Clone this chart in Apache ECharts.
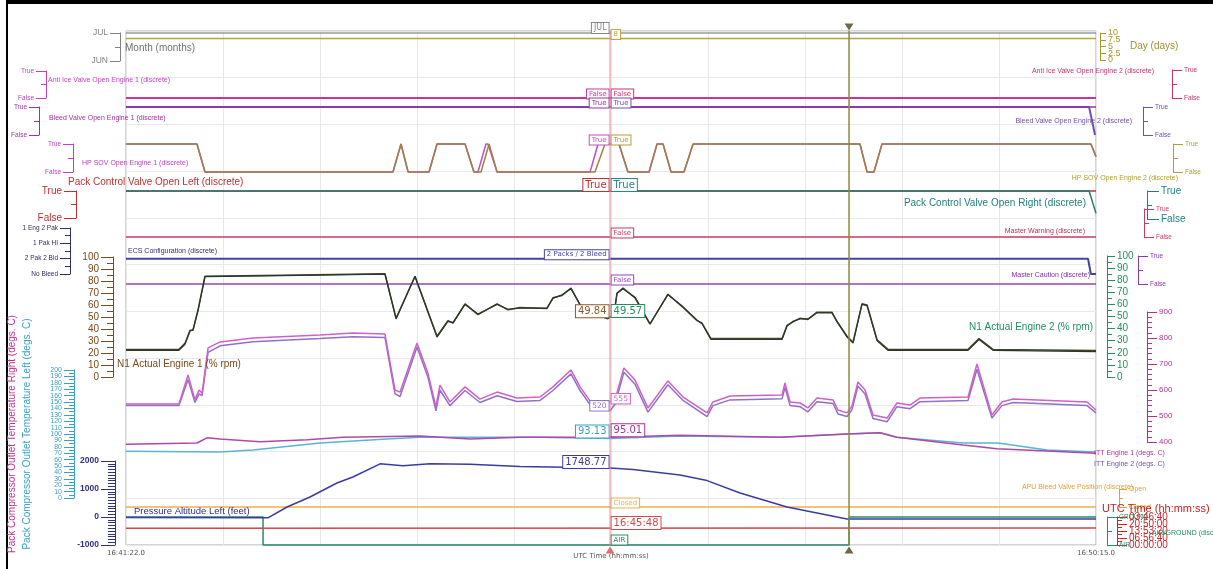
<!DOCTYPE html>
<html>
<head>
<meta charset="utf-8">
<script src="https://cdn.jsdelivr.net/npm/echarts@6/dist/echarts.min.js"></script>
<style>
  html, body { margin: 0; padding: 0; background: #fff; }
  #chart { width: 1213px; height: 569px; }
</style>
</head>
<body>
<div id="chart"></div>
<script>
// time axis: seconds after 16:41:22.0
var SPAN = 533;
var CURSOR = 266;      // 16:45:48
var MARKER = 397.3;
var START_SEC = 16 * 3600 + 41 * 60 + 22;

// discrete channels
var monthT = [0, 533], monthV = [7, 7];
var dayT = [0, 533], dayV = [8, 8];
var antiIce1T = [0, 533], antiIce1V = [0, 0];
var antiIce2T = [0, 533], antiIce2V = [0, 0];
var bleed1T = [0, 533], bleed1V = [1, 1];
var bleed2T = [0, 529.2, 532.5], bleed2V = [1, 1, 0];
var hpsov1T = [0, 39.0, 43.4, 146.7, 151.1, 155.0, 166.5, 170.9, 186.3, 191.2, 193.4, 197.8, 198.9, 203.9, 255.0, 259.4, 270.9, 275.8, 287.4, 291.8, 295.1, 299.5, 306.6, 311.6, 403.3, 407.2, 411.0, 415.4, 530.2, 533];
var hpsov1V = [1, 1, 0, 0, 1, 0, 0, 1, 1, 0, 0, 1, 1, 0, 0, 1, 1, 0, 0, 1, 1, 0, 0, 1, 1, 0, 0, 1, 1, 0.55];
var hpsov2T = [0, 39.0, 43.4, 146.7, 151.1, 155.0, 166.5, 170.9, 186.3, 191.2, 195.1, 199.5, 203.9, 257.7, 263.2, 270.9, 275.8, 287.4, 291.8, 295.1, 299.5, 306.6, 311.6, 403.3, 407.2, 411.0, 415.4, 530.2, 533];
var hpsov2V = [1, 1, 0, 0, 1, 0, 0, 1, 1, 0, 0, 1, 0, 0, 1, 1, 0, 0, 1, 1, 0, 0, 1, 1, 0, 0, 1, 1, 0.55];
var packLT = [0, 533], packLV = [1, 1];
var packRT = [0, 529.2, 533], packRV = [1, 1, 0.2];
var warnT = [0, 533], warnV = [0, 0];
var ecsT = [0, 528.6, 530.2, 533], ecsV = [1, 1, 0, 0];
var cautionT = [0, 533], cautionV = [0, 0];
var apuT = [0, 533], apuV = [0, 0];
var agT = [0, 75.3, 75.3, 397.3, 397.3, 533], agV = [1, 1, 0, 0, 1, 1];
var utcT = [0, 533], utcV = [60082, 60615];

// N1 (% rpm)
var n1T = [0, 29.1, 32.4, 35.2, 36.8, 39.6, 43.4, 95.6, 142.3, 148.4, 158.8, 170.9, 176.9, 179.7, 186.3, 193.4, 203.9, 209.9, 216.5, 231.3, 234.6, 239.6, 244.5, 250.6, 258.8, 264.8, 266, 268.1, 269.8, 273.1, 279.7, 287.9, 297.8, 306.1, 313.8, 316.5, 321.4, 360.5, 363.2, 366.5, 370.4, 374.7, 379.7, 387.9, 390.7, 396.2, 399.5, 404.4, 407.2, 412.7, 418.7, 462.7, 468.7, 476.4, 533];
var n1E1 = [23, 23, 28, 39, 39, 56, 84, 85, 86, 49, 84, 34, 47, 45, 61, 52, 61, 56, 58, 57, 66, 68, 74, 57, 52, 49, 49.84, 52, 70, 74, 66, 44, 69, 58, 47, 45, 32, 32, 43, 46, 49, 48, 54, 54, 46, 34, 29, 61, 60, 31, 23, 23, 32, 23, 22];
var n1E2 = [22, 22, 27, 38, 39, 55, 83, 84, 85, 48, 83, 33, 46, 45, 60, 52, 60, 56, 57, 57, 65, 68, 73, 57, 51, 48, 49.57, 51, 69, 73, 66, 44, 68, 58, 47, 44, 31, 31, 42, 46, 48, 48, 53, 53, 46, 33, 28, 60, 59, 30, 22, 22, 31, 22, 21];

// ITT (degs. C)
var ittT = [0, 29.1, 34.1, 37.9, 40.1, 41.8, 45.1, 51.7, 69.8, 106.6, 124.7, 142.3, 147.8, 150.6, 159.9, 165.9, 170.3, 172.5, 178.0, 186.3, 194.5, 203.9, 214.8, 227.5, 234.6, 244.5, 249.5, 256.6, 264.8, 266, 268.7, 273.6, 279.7, 286.8, 297.8, 306.1, 319.3, 322.5, 331.9, 360.5, 362.1, 364.9, 370.4, 374.7, 379.7, 388.5, 391.2, 396.2, 398.9, 402.2, 406.1, 410.5, 418.2, 423.6, 430.8, 436.3, 462.7, 467.6, 475.8, 481.3, 487.4, 528.1, 533];
var ittE1 = [546, 546, 658, 562, 600, 588, 762, 785, 800, 812, 819, 815, 600, 592, 781, 665, 535, 619, 554, 612, 565, 592, 569, 573, 612, 677, 612, 542, 550, 555, 562, 685, 638, 531, 635, 573, 512, 554, 577, 581, 627, 554, 550, 531, 569, 562, 523, 512, 538, 631, 600, 504, 492, 550, 542, 569, 573, 700, 504, 554, 565, 554, 523];
var ittE2 = [540, 540, 640, 552, 585, 578, 745, 770, 786, 798, 805, 802, 585, 575, 765, 650, 520, 600, 540, 598, 552, 578, 556, 560, 598, 662, 598, 528, 522, 520, 545, 668, 622, 515, 620, 560, 498, 540, 562, 566, 610, 540, 536, 516, 555, 548, 508, 498, 524, 615, 585, 490, 478, 536, 528, 555, 560, 680, 492, 540, 552, 540, 512];

// pack compressor outlet temperature (degs. C)
var tempRT = [0, 39.0, 44.5, 51.7, 73.6, 99.5, 119.2, 161.5, 189.0, 216.5, 266, 304.4, 359.4, 396.2, 414.3, 423.6, 459.9, 478.6, 533];
var tempRV = [84, 86, 94, 92, 88, 91, 95, 97, 92, 95, 95.01, 98, 95, 100, 102, 95, 83, 77, 70];
var tempLT = [0, 51.7, 69.8, 106.6, 143.4, 161.5, 227.5, 266, 304.4, 359.4, 396.2, 414.3, 423.6, 459.9, 479.1, 506.1, 533];
var tempLV = [73, 72, 75, 86, 92, 95, 95, 93.13, 97, 95, 100, 102, 95, 86, 86, 75, 72];

// pressure altitude (feet)
var altT = [0, 75.3, 78.0, 88.5, 101.1, 115.9, 124.7, 139.6, 152.2, 167.0, 189.0, 216.5, 266, 278.6, 304.4, 319.3, 337.4, 363.2, 396.2, 533];
var altV = [-20, -30, -30, 357, 714, 1214, 1429, 1900, 1830, 1900, 1880, 1800, 1748.77, 1700, 1500, 1300, 857, 357, -70, -70];

var boolLabels = ['False', 'True'];
var ecsLabels = ['No Bleed', '2 Pak 2 Bld', '1 Pak HI', '1 Eng 2 Pak'];
var monthLabels = { 6: 'JUN', 7: 'JUL' };
var apuLabels = ['Closed', 'Open'];
var agLabels = ['AIR', 'GROUND'];

var SANS = '"Liberation Sans", Arial, sans-serif';
var DJV = '"DejaVu Sans", Verdana, sans-serif';

function clock(sec, frac) {
  sec = ((Math.round(sec) % 86400) + 86400) % 86400;
  function p(n) { return (n < 10 ? '0' : '') + n; }
  return p(Math.floor(sec / 3600)) + ':' + p(Math.floor(sec % 3600 / 60)) + ':' + p(sec % 60) + (frac ? '.0' : '');
}

var grids = [], xAxes = [], yAxes = [], series = [];

// background plot with the time grid
grids.push({ left: 126, right: 117, top: 31, bottom: 24, show: true, borderColor: '#a8a8a8', borderWidth: 1, outerBoundsMode: 'none' });
xAxes.push({
  type: 'value', gridIndex: 0, min: 0, max: SPAN, interval: SPAN / 10,
  axisLine: { show: false }, axisTick: { show: false },
  splitLine: { show: true, lineStyle: { color: '#e8e8e8' } },
  axisLabel: { color: '#555', fontSize: 7, fontFamily: DJV, margin: 5, showMinLabel: true, showMaxLabel: true, hideOverlap: false,
    formatter: function (v) { return (v < 1 || v > SPAN - 1) ? clock(START_SEC + v, true) : ''; } },
  name: 'UTC Time (hh:mm:ss)', nameLocation: 'middle', nameGap: 8, nameMoveOverlap: false,
  nameTextStyle: { color: '#555', fontSize: 7, fontFamily: DJV }
});
yAxes.push({ type: 'value', gridIndex: 0, min: 0, max: 11, interval: 1, axisLine: { show: false }, axisTick: { show: false }, axisLabel: { show: false }, splitLine: { show: true, lineStyle: { color: '#e8e8e8' } } });

function band(top, bottom) {
  grids.push({ left: 126, right: 117, top: top, height: bottom - top, outerBoundsMode: 'none' });
  xAxes.push({ type: 'value', gridIndex: grids.length - 1, min: 0, max: SPAN, show: false });
  return grids.length - 1;
}

function makeAxis(g, o, showLine, fmt) {
  var tick = o.tick || 8;
  var a = {
    type: 'value', gridIndex: g, position: o.side, offset: o.offset,
    min: o.min, max: o.max, interval: o.interval,
    splitLine: { show: false },
    axisLine: { show: showLine, onZero: false, lineStyle: { color: o.color, width: 1 } },
    axisTick: { show: showLine, length: tick, lineStyle: { color: o.color } },
    minorTick: { show: showLine && !!o.minor, splitNumber: o.minor || 2, length: o.minorLen || 4, lineStyle: { color: o.color } },
    axisLabel: { show: o.labels !== false, color: o.color, fontSize: o.fs || 7, fontFamily: o.font || SANS, hideOverlap: false,
      showMinLabel: true, showMaxLabel: true,
      fontWeight: o.bold ? 'bold' : 'normal', margin: tick + (o.margin == null ? 2 : o.margin),
      formatter: fmt }
  };
  yAxes.push(a);
  return a;
}

// value axis; dense scales are drawn as two overlaid axes holding alternate labels
function yAx(g, o) {
  var fmt = o.fmt || function (v) { return String(v); };
  var showLine = o.line !== false;
  if (!o.split) {
    var a = makeAxis(g, o, showLine, fmt);
    if (o.name) {
      a.name = o.name; a.nameLocation = 'middle'; a.nameRotate = 90; a.nameGap = o.nameGap;
      a.nameTextStyle = { color: o.nameColor, fontSize: 10, fontFamily: SANS };
    }
    return yAxes.length - 1;
  }
  function idx(v) { return Math.round((v - o.min) / o.interval); }
  var main = makeAxis(g, o, showLine, function (v) { return idx(v) % 2 === 0 ? fmt(v) : ''; });
  var mainIndex = yAxes.length - 1;
  if (o.name) {
    main.name = o.name; main.nameLocation = 'middle'; main.nameRotate = 90; main.nameGap = o.nameGap;
    main.nameTextStyle = { color: o.nameColor, fontSize: 10, fontFamily: SANS };
  }
  makeAxis(g, o, false, function (v) { return idx(v) % 2 === 1 ? fmt(v) : ''; });
  return mainIndex;
}

function boolAxis(g, side, offset, color, fs, tick) {
  return yAx(g, { side: side, offset: offset, min: 0, max: 1, interval: 1, color: color, fs: fs, tick: tick || 10, minor: 2, minorLen: 5,
    fmt: function (v) { return boolLabels[v] || ''; } });
}

function addLine(g, yi, t, v, color, width, z, box) {
  var s = {
    type: 'line', xAxisIndex: g, yAxisIndex: yi,
    data: t.map(function (x, i) { return [x, v[i]]; }),
    showSymbol: false, symbol: 'none', clip: false, animation: false, silent: true, z: z || 3,
    lineStyle: { color: color, width: width || 1.5 }
  };
  if (box) {
    var fs = box.fs || 7;
    s.markPoint = {
      symbol: 'circle', symbolSize: 1, itemStyle: { color: 'rgba(0,0,0,0)' }, silent: true, animation: false,
      data: [{ coord: [CURSOR, box.v] }],
      label: { show: true, position: box.side, distance: 1, offset: [0, box.dy], formatter: box.text,
        color: box.color || color, fontSize: fs, fontFamily: DJV, lineHeight: fs + 1,
        backgroundColor: '#fff', borderColor: box.color || color, borderWidth: 1, padding: [1, 2, 0, 2] }
    };
  }
  series.push(s);
}

var g, y;

// Month / Day
g = band(33, 61);
y = yAx(g, { side: 'left', offset: 6, min: 6, max: 7, interval: 1, color: '#808080', fs: 8.5, tick: 10, minor: 2, minorLen: 5,
  fmt: function (v) { return monthLabels[v] || ''; } });
addLine(g, y, monthT, monthV, '#9a9a9a', 1.5, 2, { v: 7, text: 'JUL', side: 'left', fs: 8, dy: -5, color: '#888' });
g = band(33, 60);
y = yAx(g, { side: 'right', offset: 4, min: 0, max: 10, interval: 2.5, color: '#a8962e', fs: 9, tick: 6, minor: 0, split: true });
addLine(g, y, dayT, dayV, '#b4a442', 1.5, 2, { v: 8, text: '8', side: 'right', fs: 7, dy: -4 });

// Anti ice
g = band(70, 98);
y = boolAxis(g, 'right', 76, '#c8306e', 6.5);
addLine(g, y, antiIce2T, antiIce2V, '#d0306a', 2, 2, { v: 0, text: 'False', side: 'right', dy: -4 });
g = band(71, 98);
y = boolAxis(g, 'left', 80, '#c040c0', 6.5);
addLine(g, y, antiIce1T, antiIce1V, '#c23aa8', 1.5, 2, { v: 0, text: 'False', side: 'left', dy: -4 });

// Bleed valve
g = band(107, 135);
y = boolAxis(g, 'right', 47, '#7050a8', 6.5);
addLine(g, y, bleed2T, bleed2V, '#7050b0', 2, 2, { v: 1, text: 'True', side: 'right', dy: -4 });
g = band(107, 135);
y = boolAxis(g, 'left', 87, '#a030a0', 6.5);
addLine(g, y, bleed1T, bleed1V, '#9a30a8', 1.5, 2, { v: 1, text: 'True', side: 'left', dy: -4 });

// HP SOV
g = band(144, 172);
y = boolAxis(g, 'left', 53, '#c040c0', 6.5);
addLine(g, y, hpsov1T, hpsov1V, '#c050c0', 1.5, 2, { v: 1, text: 'True', side: 'left', dy: -4 });
g = band(144, 172);
y = boolAxis(g, 'right', 77, '#b0a030', 6.5);
addLine(g, y, hpsov2T, hpsov2V, '#a08048', 1.5, 2, { v: 1, text: 'True', side: 'right', dy: -4, color: '#b0a030' });

// Pack control valves
g = band(191, 218);
y = boolAxis(g, 'left', 50, '#c03030', 10, 12);
addLine(g, y, packLT, packLV, '#c03030', 1.5, 2, { v: 1, text: 'True', side: 'left', fs: 10, dy: -6 });
g = band(191, 219);
y = boolAxis(g, 'right', 51, '#208080', 10, 12);
addLine(g, y, packRT, packRV, '#257a74', 1.5, 2, { v: 1, text: 'True', side: 'right', fs: 10, dy: -6, color: '#208888' });

// Master warning
g = band(209, 237);
y = boolAxis(g, 'right', 48, '#c83a5e', 6.5);
addLine(g, y, warnT, warnV, '#c83a62', 1.5, 2, { v: 0, text: 'False', side: 'right', dy: -4 });

// ECS configuration
g = band(228, 274);
y = yAx(g, { side: 'left', offset: 56, min: 0, max: 3, interval: 1, color: '#303060', fs: 6.5, tick: 10, minor: 2, minorLen: 5,
  fmt: function (v) { return ecsLabels[v] || ''; } });
addLine(g, y, ecsT, ecsV, '#44449a', 2, 2, { v: 1, text: '2 Packs / 2 Bleed', side: 'left', dy: -4 });

// Master caution
g = band(256, 284);
y = boolAxis(g, 'right', 42, '#8a3aa8', 6.5);
addLine(g, y, cautionT, cautionV, '#9444b4', 1.5, 2, { v: 0, text: 'False', side: 'right', dy: -4 });

// N1
g = band(257, 377);
y = yAx(g, { side: 'left', offset: 13, min: 0, max: 100, interval: 10, color: '#7a4a1a', fs: 10, tick: 12, minor: 2, minorLen: 6 });
addLine(g, y, n1T, n1E1, '#4a4226', 1.5, 3, { v: 49.84, text: '49.84', side: 'left', fs: 10, dy: -6, color: '#8a5a2a' });
g = band(256, 377);
y = yAx(g, { side: 'right', offset: 11, min: 0, max: 100, interval: 10, color: '#22905a', fs: 10, tick: 8, minor: 2, minorLen: 5 });
addLine(g, y, n1T, n1E2, '#263a2a', 1.2, 3, { v: 49.57, text: '49.57', side: 'right', fs: 10, dy: -6, color: '#22905a' });

// ITT
g = band(312, 442);
y = yAx(g, { side: 'right', offset: 51, min: 400, max: 900, interval: 100, color: '#b03090', fs: 8, tick: 10, minor: 5, minorLen: 5 });
addLine(g, y, ittT, ittE2, '#9070c8', 1.5, 3, { v: 520, text: '520', side: 'left', fs: 7.5, dy: -5 });
addLine(g, y, ittT, ittE1, '#d060c8', 1.5, 3, { v: 555, text: '555', side: 'right', fs: 7.5, dy: -3 });

// pack compressor outlet temperatures
g = band(370, 498);
y = yAx(g, { side: 'left', offset: 52, min: 0, max: 200, interval: 10, color: '#3aa0c8', fs: 7, tick: 10, minor: 2, minorLen: 5, split: true,
  name: 'Pack Compressor Outlet Temperature Left (degs. C)', nameGap: 42, nameColor: '#3aa0c8' });
addLine(g, y, tempLT, tempLV, '#58b4d4', 1.5, 3, { v: 93.13, text: '93.13', side: 'left', fs: 10, dy: -7, color: '#3aa0c8' });
var yR = yAx(g, { side: 'left', offset: 52, min: 0, max: 200, color: '#c03090', line: false, labels: false,
  name: 'Pack Compressor Outlet Temperature Right (degs. C)', nameGap: 57, nameColor: '#c03090' });
addLine(g, yR, tempRT, tempRV, '#b048a8', 1.5, 3, { v: 95.01, text: '95.01', side: 'right', fs: 10, dy: -7, color: '#b03090' });

// pressure altitude
g = band(461, 545);
y = yAx(g, { side: 'left', offset: 11, min: -1000, max: 2000, interval: 1000, color: '#303080', fs: 8.5, bold: true, tick: 14, minor: 10, minorLen: 7 });
addLine(g, y, altT, altV, '#3c3ca0', 1.5, 3, { v: 1748.77, text: '1748.77', side: 'left', fs: 10, dy: -6 });

// APU bleed
g = band(489, 507);
y = yAx(g, { side: 'right', offset: 23, min: 0, max: 1, interval: 1, color: '#e0a030', fs: 7, tick: 8, minor: 2, minorLen: 4,
  fmt: function (v) { return apuLabels[v] || ''; } });
addLine(g, y, apuT, apuV, '#eab04a', 1.5, 2, { v: 0, text: 'Closed', side: 'right', dy: -4 });

// AIR / GROUND
g = band(517, 545);
y = yAx(g, { side: 'right', offset: 11, min: 0, max: 1, interval: 1, color: '#2a8a6a', fs: 6.5, tick: 10, minor: 2, minorLen: 5,
  fmt: function (v) { return agLabels[v] || ''; } });
addLine(g, y, agT, agV, '#2a8a6a', 1.5, 2, { v: 0, text: 'AIR', side: 'right', dy: -5 });

// UTC time channel
g = band(517, 545);
y = yAx(g, { side: 'right', offset: 21, min: 0, max: 100000, interval: 25000, color: '#c82828', fs: 10, tick: 10, minor: 2, minorLen: 5, split: true,
  fmt: function (v) { return clock(v, false); } });
addLine(g, y, utcT, utcV, '#d04848', 1.5, 2, { v: 60348, text: '16:45:48', side: 'right', fs: 10, dy: -5 });

// cursor and marker lines on the background grid
series.push({ type: 'line', xAxisIndex: 0, yAxisIndex: 0, data: [[CURSOR, 0], [CURSOR, 11]], showSymbol: false, symbol: 'none', clip: false, animation: false, silent: true, z: 8, lineStyle: { color: '#e88898', width: 1 } });
series.push({ type: 'line', xAxisIndex: 0, yAxisIndex: 0, data: [[MARKER, 0], [MARKER, 11]], showSymbol: false, symbol: 'none', clip: false, animation: false, silent: true, z: 8, lineStyle: { color: '#8c8a3a', width: 1.5 } });
series.push({ type: 'scatter', xAxisIndex: 0, yAxisIndex: 0, data: [[CURSOR, 0]], symbol: 'triangle', symbolSize: [9, 7], symbolOffset: [0, 5], itemStyle: { color: '#e04848' }, silent: true, animation: false, z: 9 });
series.push({ type: 'scatter', xAxisIndex: 0, yAxisIndex: 0, data: [[MARKER, 0]], symbol: 'triangle', symbolSize: [9, 7], symbolOffset: [0, 5], itemStyle: { color: '#4a4218' }, silent: true, animation: false, z: 9 });
series.push({ type: 'scatter', xAxisIndex: 0, yAxisIndex: 0, data: [[MARKER, 11]], symbol: 'triangle', symbolRotate: 180, symbolSize: [9, 7], symbolOffset: [0, -4], itemStyle: { color: '#4a4218' }, silent: true, animation: false, z: 9 });

// channel titles
var titles = [
  ['Month (months)', 125, 48, '#707070', 10, 'left'],
  ['Day (days)', 1130, 46, '#a09030', 10, 'left'],
  ['Anti Ice Valve Open Engine 1 (discrete)', 48, 80, '#c040c0', 7, 'left'],
  ['Anti Ice Valve Open Engine 2 (discrete)', 1154, 71, '#c83070', 7, 'right'],
  ['Bleed Valve Open Engine 1 (discrete)', 49, 118, '#a030a0', 7, 'left'],
  ['Bleed Valve Open Engine 2 (discrete)', 1132, 121, '#7050a8', 7, 'right'],
  ['HP SOV Open Engine 1 (discrete)', 82, 163, '#c040c0', 7, 'left'],
  ['HP SOV Open Engine 2 (discrete)', 1178, 178, '#b0a030', 7, 'right'],
  ['Pack Control Valve Open Left (discrete)', 68, 182, '#c03030', 10, 'left'],
  ['Pack Control Valve Open Right (discrete)', 1086, 203, '#208080', 10, 'right'],
  ['Master Warning (discrete)', 1085, 231, '#c03050', 7, 'right'],
  ['ECS Configuration (discrete)', 128, 251, '#303070', 7, 'left'],
  ['Master Caution (discrete)', 1090, 275, '#8030a0', 7, 'right'],
  ['N1 Actual Engine 1 (% rpm)', 117, 364, '#7a4a1a', 10, 'left'],
  ['N1 Actual Engine 2 (% rpm)', 1093, 327, '#209060', 10, 'right'],
  ['ITT Engine 1 (degs. C)', 1094, 453, '#b030a0', 7, 'left'],
  ['ITT Engine 2 (degs. C)', 1094, 464, '#7050b0', 7, 'left'],
  ['Pressure Altitude Left (feet)', 134, 511, '#303090', 9.5, 'left'],
  ['APU Bleed Valve Position (discrete)', 1022, 487, '#e0a030', 7, 'left'],
  ['UTC Time (hh:mm:ss)', 1102, 509, '#c82020', 11, 'left'],
  ['AIR/GROUND (discrete)', 1152, 533, '#2a8a6a', 7, 'left']
];

var graphic = titles.map(function (d) {
  return { type: 'text', x: d[1], y: d[2], z: 20, silent: true,
    style: { text: d[0], fill: d[3], font: d[4] + 'px ' + SANS, align: d[5], verticalAlign: 'middle' } };
});
// outer frame (top and left)
graphic.push({ type: 'rect', shape: { x: 6, y: 0, width: 1207, height: 4 }, style: { fill: '#000' }, silent: true });
graphic.push({ type: 'rect', shape: { x: 6, y: 0, width: 2, height: 569 }, style: { fill: '#000' }, silent: true });

var chart = echarts.init(document.getElementById('chart'));
chart.setOption({
  animation: false,
  backgroundColor: '#fff',
  grid: grids,
  xAxis: xAxes,
  yAxis: yAxes,
  series: series,
  graphic: graphic
});
window.addEventListener('resize', function () { chart.resize(); });
</script>
</body>
</html>
